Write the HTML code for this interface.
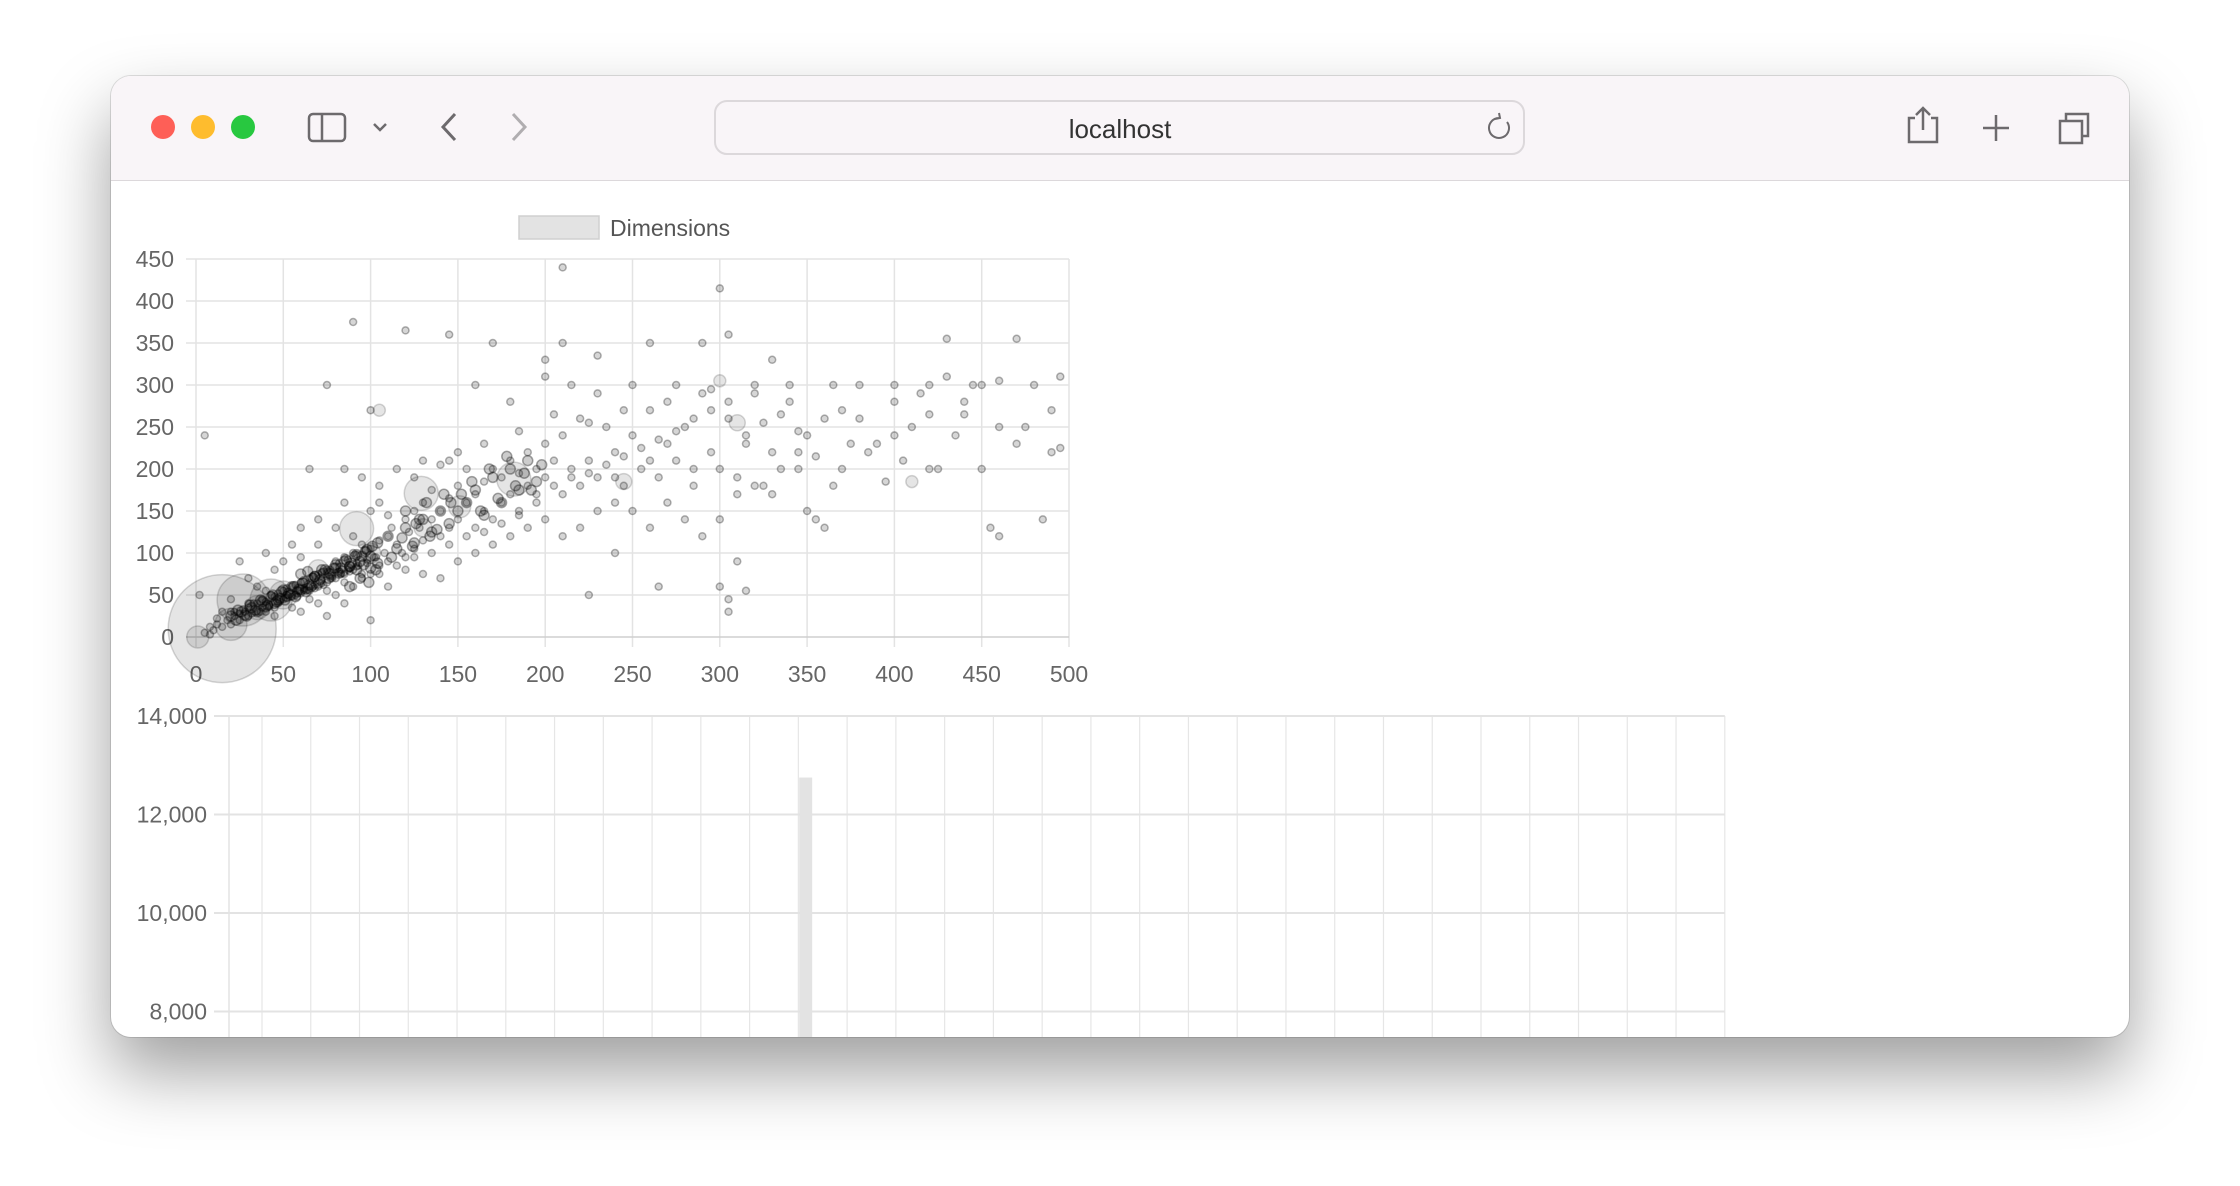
<!DOCTYPE html>
<html><head><meta charset="utf-8"><style>
body{margin:0;width:2240px;height:1186px;background:#fff;overflow:hidden;font-family:"Liberation Sans",sans-serif;}
#win{position:absolute;left:111px;top:76px;width:2018px;height:961px;border-radius:20px;overflow:hidden;background:#fff;box-shadow:0 35px 70px rgba(0,0,0,0.38),0 0 0 1px rgba(0,0,0,0.12);}
#bar{position:absolute;left:0;top:0;width:2018px;height:104px;background:#f9f5f8;border-bottom:1px solid #dcd8db;}
svg{position:absolute;left:-111px;top:-76px;}
</style></head><body>
<div id="win">
<div id="bar"></div>
<svg width="2240" height="1186" id="s">
<g>
<circle cx="163" cy="127" r="12" fill="#fe5f57"/>
<circle cx="203" cy="127" r="12" fill="#febc2e"/>
<circle cx="243" cy="127" r="12" fill="#28c840"/>
</g>
<g fill="none" stroke="#6d6a6d" stroke-width="2.5">
<rect x="309" y="114" width="36" height="27" rx="4"/><line x1="322" y1="114" x2="322" y2="141"/>
</g>
<path d="M374 124 l6 6 l6 -6" fill="none" stroke="#6d6a6d" stroke-width="2.5"/>
<path d="M455 114 l-12 13 l12 13" fill="none" stroke="#6d6a6d" stroke-width="3"/>
<path d="M513 114 l12 13 l-12 13" fill="none" stroke="#b0adb0" stroke-width="3"/>
<rect x="715" y="101" width="809" height="53" rx="12" fill="#f9f5f8" stroke="#dcd8db" stroke-width="2"/>
<text x="1120" y="138" font-size="26" fill="#333" text-anchor="middle">localhost</text>
<path d="M1507 122 a10 10 0 1 1 -8 -4 M1499 113 l1 5 l-5 1" fill="none" stroke="#6d6a6d" stroke-width="2"/>
<g fill="none" stroke="#6d6a6d" stroke-width="2.5">
<path d="M1915 118 h-6 v24 h28 v-24 h-6 M1923 108 v22 M1916 115 l7 -7 l7 7"/>
<path d="M1996 115 v26 M1983 128 h26"/>
<path d="M2060 121 h22 v22 h-22 z M2066 121 v-7 h22 v22 h-6"/>
</g>
<g id="scatter"></g>
<g id="barchart"></g>
</svg>
</div>
<script>
const NS='http://www.w3.org/2000/svg';
const xTicks=[0,50,100,150,200,250,300,350,400,450,500];
const yTicks=[0,50,100,150,200,250,300,350,400,450];
const ptX=[5,8,10,12,15,18,20,22,25,25,28,30,30,32,35,35,38,40,40,42,45,45,48,50,50,52,55,55,58,60,60,62,65,65,68,70,70,72,75,75,78,80,80,82,85,85,88,90,90,92,95,95,98,100,100,102,105,105,108,110,110,112,115,118,120,120,122,125,125,128,130,130,135,135,140,140,145,145,150,150,155,155,160,160,165,165,170,170,175,175,180,180,185,185,190,190,195,195,200,200,205,210,210,215,220,220,225,230,235,240,245,250,255,260,265,270,275,280,285,290,295,300,305,310,315,320,325,330,340,345,350,355,360,370,380,390,400,410,420,430,440,450,460,470,480,490,495,470,430,405,460,455,495,485,450,420,400,380,360,350,335,320,310,305,305,300,315,265,240,225,210,210,300,90,120,145,170,200,230,260,290,305,330,275,250,230,215,200,180,160,100,75,5,40,25,30,55,60,70,65,85,95,115,130,140,150,100,105,110,80,90,50,45,35,20,15,60,70,80,90,100,85,75,110,120,130,140,150,160,170,180,190,200,210,220,230,240,250,260,270,280,290,240,260,285,300,310,330,345,365,375,395,425,435,445,415,365,340,320,295,270,245,225,205,185,165,145,125,105,85,70,60,40,30,20,12,8,2,45,55,65,75,85,95,105,115,125,135,145,155,165,175,185,195,205,215,225,235,245,255,265,275,285,295,305,315,325,335,345,355,370,385,400,420,440,460,475,490,
22,27,33,38,43,47,52,57,62,67,72,77,82,87,92,97,37,42,47,52,57,62,67,72,77,82,87,92,58,63,68,73,78,83,88,93,98,103];
const ptY=[5,12,8,15,12,20,15,25,20,28,30,25,35,28,30,40,35,42,30,38,48,35,42,55,45,50,60,48,55,65,52,58,70,55,62,75,60,68,80,65,72,90,70,78,95,75,82,100,80,88,110,75,92,105,75,95,115,85,100,120,90,130,110,100,140,95,125,150,105,130,160,115,140,175,150,120,165,130,180,140,160,200,170,130,185,150,200,140,190,160,210,170,195,150,220,180,200,160,230,190,210,170,240,200,180,260,210,190,250,220,180,240,200,270,190,230,210,250,180,290,220,200,260,190,240,300,180,220,280,200,240,140,260,200,300,230,280,250,300,310,280,300,250,230,300,270,310,355,355,210,120,130,225,140,200,265,300,260,130,150,200,180,90,45,30,60,55,60,100,50,350,440,415,375,365,360,350,330,335,350,350,360,330,300,300,290,300,310,280,300,270,300,240,100,90,70,110,130,140,200,200,190,200,210,205,220,150,160,145,130,120,90,80,60,45,30,30,40,50,60,20,40,25,60,80,75,70,90,100,110,120,130,140,120,130,150,160,150,130,160,140,120,190,210,200,140,170,170,220,180,230,185,200,240,300,290,300,300,290,295,280,270,255,265,245,230,210,190,180,160,110,95,55,40,30,22,3,50,25,35,45,55,65,70,75,85,95,100,110,120,125,135,145,170,180,190,195,205,215,225,235,245,260,270,280,230,255,265,245,215,270,220,240,200,265,305,250,220,
30,33,40,45,50,52,58,62,66,72,77,80,88,92,98,103,30,36,40,47,50,56,60,64,70,76,80,84,48,55,58,62,70,75,78,85,88,95];
const clusterX=[20,23,26,29,32,35,38,41,44,47,50,53,56,59,62,65,68,71,74,77,80,83,86,89,92,95,98,101,104,24,28,31,34,37,40,43,46,49,52,55,58,61,64,67,70,73,76,79,82,85,88,91,94,97,100,60,64,68,72,76,80,84,88,92,96,100,104,45,48,51,54,57,60,63,66,110,115,120,125,130,135,140,145,112,118,124,128,132,138,142,150,155,160,165,170,175,180,185,190,195,152,158,163,168,173,178,183,188,192,198,120,126,134,146,88,94,99,103];
const clusterY=[25,20,30,25,35,30,42,38,50,44,56,52,60,57,66,62,72,68,80,75,86,82,92,88,98,96,104,108,112,32,26,38,32,44,36,48,42,54,48,60,54,64,58,70,64,76,70,82,76,90,84,96,90,102,96,75,78,72,80,76,82,78,84,80,86,82,88,40,46,44,50,48,56,54,60,120,105,130,112,140,125,150,135,95,118,108,140,160,128,170,150,160,175,145,190,160,200,175,210,185,170,185,150,200,165,215,180,195,175,205,150,135,120,160,60,70,65,80];
const bubX=[15,27,43,1,92,129,182,151,20,50,35,70,100,130,245,410,310,105,300];
const bubY=[10,44,44,0,129,171,188,155,15,50,35,80,100,130,185,185,255,270,305];
const bubR=[54,26,21,11,17,17,17,11,16,14,12,10,10,9,8,6,8,6,6];
const sx=v=>196+v*873/500, sy=v=>637-v*378/450;
const sc=document.getElementById('scatter');
function mk(tag,attrs,parent){const e=document.createElementNS(NS,tag);for(const k in attrs)e.setAttribute(k,attrs[k]);parent.appendChild(e);return e;}
xTicks.forEach(t=>{const l=mk('line',{x1:sx(t),x2:sx(t),y1:sy(450),y2:sy(0)+10,stroke:'#e3e3e3','stroke-width':1.5},sc);


const tx=mk('text',{x:sx(t),y:682,'font-size':23,fill:'#666','text-anchor':'middle'},sc);tx.textContent=t;

});
yTicks.forEach(t=>{const l=mk('line',{x1:sx(0)-10,x2:sx(500),y1:sy(t),y2:sy(t),stroke:t==0?'#cfcfcf':'#e3e3e3','stroke-width':1.5},sc);


const tx=mk('text',{x:174,y:sy(t)+8,'font-size':23,fill:'#666','text-anchor':'end'},sc);tx.textContent=t;

});
bubX.forEach((x,i)=>{const c=mk('circle',{cx:sx(x),cy:sy(bubY[i]),r:bubR[i],fill:'rgba(0,0,0,0.1)',stroke:'rgba(0,0,0,0.16)','stroke-width':1.5},sc);

});
ptX.forEach((x,i)=>{const c=mk('circle',{cx:sx(x),cy:sy(ptY[i]),r:3.5,fill:'rgba(0,0,0,0.16)',stroke:'rgba(0,0,0,0.3)','stroke-width':1.5},sc);

});
clusterX.forEach((x,i)=>{const c=mk('circle',{cx:sx(x),cy:sy(clusterY[i]),r:5,fill:'rgba(0,0,0,0.2)',stroke:'rgba(0,0,0,0.35)','stroke-width':1.5},sc);

});
const lg=mk('rect',{x:519,y:216,width:80,height:23,fill:'#e3e3e3',stroke:'#d0d0d0','stroke-width':1.5},sc);


const lt=mk('text',{x:610,y:236,'font-size':23,fill:'#555'},sc);lt.textContent='Dimensions';



const barYTicks=[14000,12000,10000,8000,6000];
const barTickCount=31;
const barX=[11.15];
const barVal=[12750];
const bc=document.getElementById('barchart');
const bx=t=>262+48.76*t, by=v=>716+(14000-v)*98.5/2000;
mk('line',{x1:229,x2:229,y1:716,y2:1200,stroke:'#e3e3e3','stroke-width':1.5},bc);
for(let t=0;t<barTickCount;t++){const l=mk('line',{x1:bx(t),x2:bx(t),y1:716,y2:1200,stroke:'#e6e6e6','stroke-width':1.2},bc);

}
barYTicks.forEach(t=>{const l=mk('line',{x1:214,x2:bx(30),y1:by(t),y2:by(t),stroke:'#e3e3e3','stroke-width':2},bc);


const tx=mk('text',{x:207,y:by(t)+8,'font-size':23,fill:'#666','text-anchor':'end'},bc);tx.textContent=t.toLocaleString('en-US');

});
barX.forEach((x,i)=>{const r=mk('rect',{x:bx(x)-6.5,y:by(barVal[i]),width:13,height:1200-by(barVal[i]),fill:'#e3e3e3'},bc);

});
</script>
</body></html>
